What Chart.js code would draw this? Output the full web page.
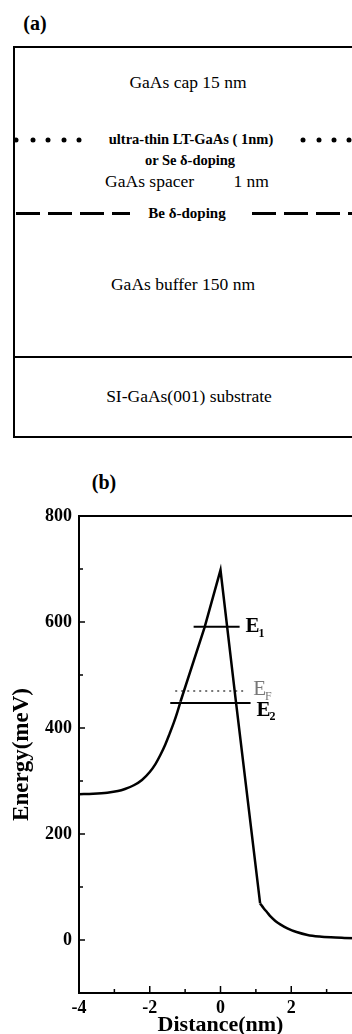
<!DOCTYPE html>
<html>
<head>
<meta charset="utf-8">
<script src="https://cdn.jsdelivr.net/npm/chart.js@4.4.0/dist/chart.umd.min.js"></script>
<style>
  html, body { margin: 0; padding: 0; background: #fff; }
  body { width: 352px; height: 1034px; overflow: hidden; position: relative; font-family: 'Liberation Serif', 'DejaVu Serif', serif; color: #000; }
  .t { position: absolute; transform: translate(-50%, -50%); line-height: 1; white-space: pre; font-family: 'Liberation Serif', 'DejaVu Serif', serif; }
  .reg { font-size: 17.5px; font-weight: normal; }
  .bold { font-weight: bold; }
  .panel-label { position: absolute; font-weight: bold; font-size: 20px; line-height: 1; transform: translate(-50%, -50%); font-family: 'Liberation Serif', serif; }
  #box { position: absolute; left: 13px; top: 46px; width: 420px; height: 388px; border: 2px solid #000; }
  #divider { position: absolute; left: 13px; top: 356px; width: 420px; height: 2px; background: #000; }
  .dot { position: absolute; width: 5px; height: 5px; border-radius: 50%; background: #000; transform: translate(-50%, -50%); }
  .dash { position: absolute; height: 3.5px; top: 211.5px;
          background: repeating-linear-gradient(to right, #000 0 24px, transparent 24px 32px); }
  #wrapB { position: absolute; left: 0; top: 460px; width: 352px; height: 574px; overflow: hidden; }
</style>
</head>
<body>
<div class="panel-label" style="left:35px;top:23px">(a)</div>
<div id="box"></div>
<div id="divider"></div>

<div class="t reg" style="left:188px;top:83px">GaAs cap 15 nm</div>
<div class="t bold" style="left:191px;top:139px;font-size:14.5px">ultra-thin LT-GaAs ( 1nm)</div>
<div class="t bold" style="left:190px;top:160px;font-size:14.5px">or Se δ-doping</div>
<div class="t reg" style="left:187px;top:182px">GaAs spacer         1 nm</div>
<div class="t bold" style="left:187px;top:213px;font-size:15px">Be δ-doping</div>
<div class="t reg" style="left:183px;top:285px">GaAs buffer 150 nm</div>
<div class="t reg" style="left:189px;top:397px">SI-GaAs(001) substrate</div>

<div id="dots"></div>
<div class="dash" style="left:16px;width:114px"></div>
<div class="dash" style="left:252px;width:120px"></div>

<div class="panel-label" style="left:104px;top:482px">(b)</div>
<div id="wrapB"><canvas id="bandChart" width="380" height="574"></canvas></div>

<script>
// layer diagram dot positions (delta-doping marker)
const dotX = [16, 32.5, 48, 63.5, 78.5, 303, 318.5, 333.5, 348.5];
const dotsEl = document.getElementById('dots');
dotX.forEach(x => {
    const d = document.createElement('div');
    d.className = 'dot';
    d.style.left = x + 'px';
    d.style.top = '140px';
    dotsEl.appendChild(d);
});

// band profile
const distance = [-4, -3.6, -3.2, -2.9, -2.7, -2.45, -2.22, -2.0, -1.84, -1.7, -1.56, -1.44, -1.32, -1.22, -1.13,
    -0.45, 0, 0.43, 1.12, 1.22, 1.32, 1.42, 1.55, 1.7, 1.89, 2.15, 2.46, 2.8, 3.12, 3.5, 4];
const energy = [275, 276, 278, 281, 285, 292, 302, 317, 332, 349, 369, 389, 410, 430, 450,
    590, 698, 453, 69, 60, 52, 44, 36, 29, 22, 15, 9.5, 6.5, 5, 4, 3];
// indices where the curve turns from smooth to straight pieces
const kinkLeft = 14;
const kinkRight = 18;

// sub-band levels and Fermi level
const levelNames = ['1', 'F', '2'];
const levelEnergy = [591, 470, 447];
const levelStart = [-0.76, -1.28, -1.42];
const levelEnd = [0.54, 0.64, 0.85];

const xTicks = [-4, -3, -2, -1, 0, 1, 2, 3, 4];
const yTicks = [-100, 0, 100, 200, 300, 400, 500, 600, 700, 800];

const serif = "'Liberation Serif', 'DejaVu Serif', serif";

function bandPiece(from, to) {
    const pts = [];
    for (let i = from; i <= to; i++) pts.push({ x: distance[i], y: energy[i] });
    return pts;
}

function levelData(i) {
    return [{ x: levelStart[i], y: levelEnergy[i] }, { x: levelEnd[i], y: levelEnergy[i] }];
}

const frameAndLabels = {
    id: 'frameAndLabels',
    afterDatasetsDraw(chart) {
        const { ctx, chartArea: a, scales: { x, y } } = chart;
        ctx.save();
        ctx.strokeStyle = '#000';
        ctx.lineWidth = 2;
        ctx.beginPath();
        ctx.moveTo(a.left - 1, a.top);
        ctx.lineTo(a.right + 20, a.top);
        ctx.stroke();

        ctx.lineWidth = 1.5;
        ctx.beginPath();
        xTicks.forEach(v => {
            const px = x.getPixelForValue(v);
            const len = v % 2 === 0 ? 7 : 4;
            ctx.moveTo(px, a.bottom);
            ctx.lineTo(px, a.bottom - len);
        });
        yTicks.forEach(v => {
            const py = y.getPixelForValue(v);
            const len = v % 200 === 0 ? 6 : 4;
            ctx.moveTo(a.left, py);
            ctx.lineTo(a.left + len, py);
        });
        ctx.stroke();

        // level labels E1, EF, E2
        const gaps = [6, 10, 6];
        const drop = [0, -1, 7];
        const colors = ['#000', '#777', '#000'];
        const weights = ['bold', 'normal', 'bold'];
        ctx.textBaseline = 'middle';
        ctx.textAlign = 'left';
        levelNames.forEach((n, i) => {
            const px = x.getPixelForValue(levelEnd[i]) + gaps[i];
            const py = y.getPixelForValue(levelEnergy[i]) + drop[i];
            ctx.fillStyle = colors[i];
            ctx.font = weights[i] + ' 21px ' + serif;
            ctx.fillText('E', px, py);
            const w = ctx.measureText('E').width;
            ctx.font = weights[i] + ' 12px ' + serif;
            ctx.fillText(n, px + w - 1, py + 7);
        });
        ctx.restore();
    }
};

const bandStyle = { borderColor: '#000', borderWidth: 2.5, pointRadius: 0 };

const ctx = document.getElementById('bandChart').getContext('2d');
new Chart(ctx, {
    type: 'line',
    data: {
        datasets: [
            { ...bandStyle, data: bandPiece(0, kinkLeft), cubicInterpolationMode: 'monotone' },
            { ...bandStyle, data: bandPiece(kinkLeft, kinkRight), tension: 0 },
            { ...bandStyle, data: bandPiece(kinkRight, distance.length - 1), cubicInterpolationMode: 'monotone' },
            {
                data: levelData(0),
                borderColor: '#000',
                borderWidth: 2,
                pointRadius: 0
            },
            {
                data: levelData(1),
                borderColor: '#777',
                borderWidth: 2,
                borderDash: [2, 4],
                pointRadius: 0
            },
            {
                data: levelData(2),
                borderColor: '#000',
                borderWidth: 2,
                pointRadius: 0
            }
        ]
    },
    options: {
        responsive: false,
        animation: false,
        events: [],
        layout: { padding: { top: 56, right: 18, left: 0, bottom: 0 } },
        plugins: {
            legend: { display: false },
            tooltip: { enabled: false }
        },
        scales: {
            x: {
                type: 'linear',
                min: -4,
                max: 4,
                afterFit: s => { s.height = 41; },
                grid: { display: false, drawTicks: false },
                border: { display: true, color: '#000', width: 2 },
                ticks: {
                    stepSize: 1,
                    padding: 5,
                    color: '#000',
                    font: { family: serif, size: 18, weight: 'bold' },
                    callback: v => (v % 2 === 0 ? v : '')
                },
                title: {
                    display: true,
                    text: 'Distance(nm)',
                    color: '#000',
                    padding: 0,
                    font: { family: serif, size: 22, weight: 'bold', lineHeight: 0.8 }
                }
            },
            y: {
                min: -100,
                max: 800,
                afterFit: s => { s.width = 79; },
                grid: { display: false, drawTicks: false },
                border: { display: true, color: '#000', width: 2 },
                ticks: {
                    stepSize: 100,
                    padding: 7,
                    color: '#000',
                    font: { family: serif, size: 18, weight: 'bold' },
                    callback: v => (v % 200 === 0 && v >= 0 ? v : '')
                },
                title: {
                    display: true,
                    text: 'Energy(meV)',
                    color: '#000',
                    padding: { top: 8, bottom: 0 },
                    font: { family: serif, size: 23, weight: 'bold' }
                }
            }
        }
    },
    plugins: [frameAndLabels]
});
</script>
</body>
</html>
